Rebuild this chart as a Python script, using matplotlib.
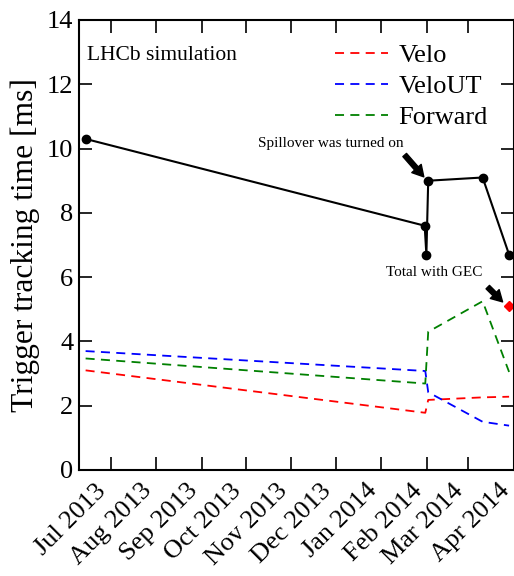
import datetime as dt

import matplotlib
matplotlib.use("Agg")
import matplotlib.pyplot as plt
import matplotlib.dates as mdates

# ---- data ------------------------------------------------------------------
total_dates = [
    dt.datetime(2013, 6, 14), dt.datetime(2014, 1, 30, 14), dt.datetime(2014, 1, 31, 18),
    dt.datetime(2014, 2, 2), dt.datetime(2014, 3, 11), dt.datetime(2014, 3, 29),
]
total_ms = [10.3, 7.6, 6.7, 9.0, 9.1, 6.7]

step_dates = [
    dt.datetime(2013, 6, 14), dt.datetime(2014, 1, 31), dt.datetime(2014, 2, 2),
    dt.datetime(2014, 3, 11), dt.datetime(2014, 3, 29),
]
velo_ms = [3.1, 1.78, 2.18, 2.26, 2.28]
velout_ms = [3.7, 3.08, 2.42, 1.5, 1.38]
forward_ms = [3.47, 2.69, 4.3, 5.25, 3.05]

gec_date = [dt.datetime(2014, 3, 29)]
gec_ms = [5.1]

month_ticks = [dt.datetime(2013, m, 1) for m in range(7, 13)] + \
              [dt.datetime(2014, m, 1) for m in range(1, 5)]

plt.rcParams["font.family"] = ["Liberation Serif", "DejaVu Serif"]

fig = plt.figure(figsize=(5.14, 5.76), dpi=100)
ax = fig.add_axes([79 / 514, 106 / 576, 434.5 / 514, 450 / 576])

dash = (0, (5, 3.5))
l_velo, = ax.plot(step_dates, velo_ms, color="#ff0000", lw=1.3, ls=dash, label="Velo")
l_vut, = ax.plot(step_dates, velout_ms, color="#0000ff", lw=1.3, ls=dash, label="VeloUT")
l_fwd, = ax.plot(step_dates, forward_ms, color="#008000", lw=1.3, ls=dash, label="Forward")
ax.plot(total_dates, total_ms, color="black", lw=1.5, marker="o", ms=6)
ax.plot(gec_date, gec_ms, color="#ff0000", marker="D", ms=5, ls="none")

ax.set_xlim(dt.datetime(2013, 6, 9, 12), dt.datetime(2014, 4, 1))
ax.set_ylim(0, 14)
ax.set_yticks(range(0, 15, 2))
ax.set_xticks(month_ticks)
ax.xaxis.set_major_formatter(mdates.DateFormatter("%b %Y"))
plt.setp(ax.get_xticklabels(), rotation=45, ha="right", fontsize=19)
plt.setp(ax.get_yticklabels(), fontsize=19)

ax.tick_params(direction="in", length=9.5, width=1.2, top=True, right=True, pad=4)
ax.tick_params(axis="x", pad=7)
for s in ax.spines.values():
    s.set_linewidth(1.5)

ax.set_ylabel("Trigger tracking time [ms]", fontsize=22.7, labelpad=5)

ax.text(0.018, 0.922, "LHCb simulation", transform=ax.transAxes, fontsize=15.5,
        va="center", ha="left")

ax.legend(handles=[l_velo, l_vut, l_fwd], loc="upper left", bbox_to_anchor=(0.589, 0.947),
          frameon=False, fontsize=19, handlelength=2.0, handletextpad=0.4,
          labelspacing=0.28, borderpad=0, borderaxespad=0)

ax.text(dt.datetime(2014, 1, 16), 10.17, "Spillover was turned on", fontsize=11,
        ha="right", va="center")
ax.annotate("", xy=(dt.datetime(2014, 1, 30), 9.12), xytext=(dt.datetime(2014, 1, 17), 9.8),
            arrowprops=dict(facecolor="black", edgecolor="black", width=3.5,
                            headwidth=9, headlength=8, shrink=0))

ax.text(dt.datetime(2014, 3, 11), 6.13, "Total with GEC", fontsize=11,
        ha="right", va="center")
ax.annotate("", xy=(dt.datetime(2014, 3, 24, 14), 5.23), xytext=(dt.datetime(2014, 3, 14, 12), 5.69),
            arrowprops=dict(facecolor="black", edgecolor="black", width=3.5,
                            headwidth=9, headlength=8, shrink=0))

fig.savefig("out.png", dpi=100)
